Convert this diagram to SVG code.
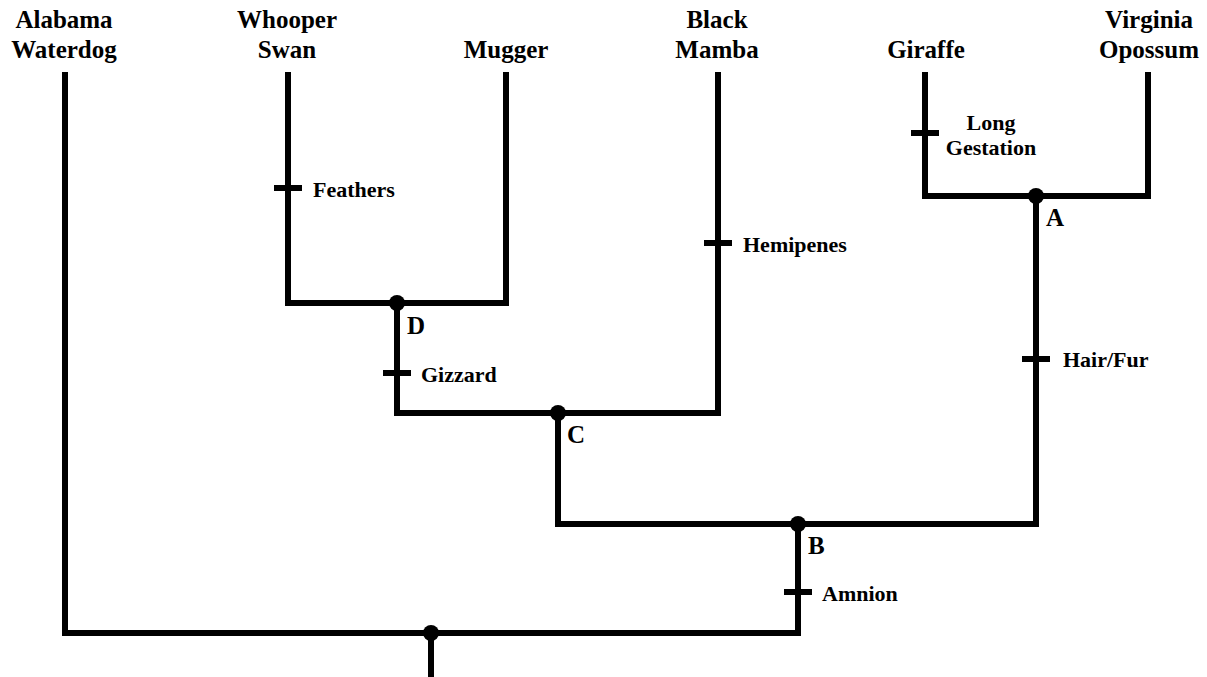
<svg xmlns="http://www.w3.org/2000/svg" width="1207" height="677" viewBox="0 0 1207 677">
<style>
text{font-family:'Liberation Serif',serif;font-weight:bold;fill:#000}
.t{font-size:25px;text-anchor:middle}
.l{font-size:22px}
.n{font-size:25px}
.e{fill:none;stroke:#000;stroke-width:6;stroke-linejoin:miter;stroke-linecap:butt}
.k{stroke:#000;stroke-width:6}
.d{fill:#000}
</style>
<rect width="1207" height="677" fill="#fff"/>
<g id="connectors">
<path class="e" d="M65,72 V633 H798 V524"/>
<path class="e" d="M431,633 V677"/>
<path class="e" d="M558,413 V524 H1036 V196"/>
<path class="e" d="M397,303 V413 H718 V72"/>
<path class="e" d="M288,72 V303 H506 V72"/>
<path class="e" d="M925,72 V196 H1148 V72"/>
</g>
<g font-family="Liberation Serif" font-weight="bold">
<g id="taxon-alabama-waterdog"><text class="t" x="64" y="28">Alabama</text><text class="t" x="64" y="58">Waterdog</text></g>
<g id="taxon-whooper-swan"><text class="t" x="287" y="28">Whooper</text><text class="t" x="287" y="58">Swan</text></g>
<g id="taxon-mugger"><text class="t" x="506" y="58">Mugger</text></g>
<g id="taxon-black-mamba"><text class="t" x="717" y="28">Black</text><text class="t" x="717" y="58">Mamba</text></g>
<g id="taxon-giraffe"><text class="t" x="926" y="58">Giraffe</text></g>
<g id="taxon-virginia-opossum"><text class="t" x="1149" y="28">Virginia</text><text class="t" x="1149" y="58">Opossum</text></g>
<g id="trait-feathers"><line class="k" x1="274" y1="188" x2="302" y2="188"/><text class="l" x="313" y="197">Feathers</text></g>
<g id="trait-gizzard"><line class="k" x1="383" y1="373" x2="411" y2="373"/><text class="l" x="421" y="382">Gizzard</text></g>
<g id="trait-hemipenes"><line class="k" x1="704" y1="243" x2="732" y2="243"/><text class="l" x="743" y="252">Hemipenes</text></g>
<g id="trait-long-gestation"><line class="k" x1="911" y1="133" x2="939" y2="133"/><text class="l" x="991" y="130" text-anchor="middle">Long</text><text class="l" x="991" y="155" text-anchor="middle">Gestation</text></g>
<g id="trait-hair-fur"><line class="k" x1="1022" y1="359" x2="1050" y2="359"/><text class="l" x="1063" y="367">Hair/Fur</text></g>
<g id="trait-amnion"><line class="k" x1="784" y1="592" x2="812" y2="592"/><text class="l" x="822" y="601">Amnion</text></g>
<g id="node-root"><circle class="d" cx="431" cy="633" r="8"/></g>
<g id="node-B"><circle class="d" cx="798" cy="524" r="8"/><text class="n" x="808" y="554">B</text></g>
<g id="node-C"><circle class="d" cx="558" cy="413" r="8"/><text class="n" x="567" y="443">C</text></g>
<g id="node-D"><circle class="d" cx="397" cy="303" r="8"/><text class="n" x="407" y="334">D</text></g>
<g id="node-A"><circle class="d" cx="1036" cy="196" r="8"/><text class="n" x="1046" y="226">A</text></g>
</g>
</svg>
